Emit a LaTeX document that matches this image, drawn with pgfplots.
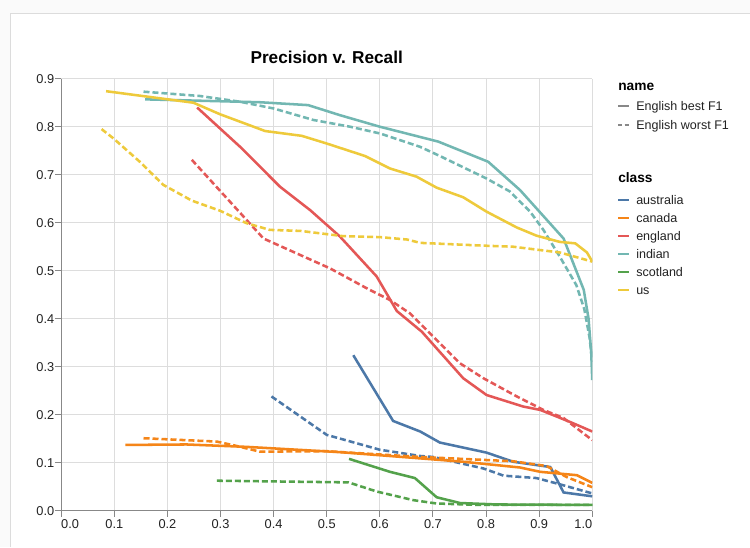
\documentclass[border=0pt]{standalone}
\usepackage{pgfplots}
\pgfplotsset{compat=1.18}
\usepackage{fontspec}
\setmainfont{Liberation Sans}
\definecolor{caus}{HTML}{4C78A8}
\definecolor{ccan}{HTML}{F58518}
\definecolor{ceng}{HTML}{E45756}
\definecolor{cind}{HTML}{72B7B2}
\definecolor{csco}{HTML}{54A24B}
\definecolor{cus}{HTML}{EECA3B}
\definecolor{gridgray}{HTML}{DDDDDD}
\definecolor{axisgray}{HTML}{888888}
\definecolor{framegray}{HTML}{DCDCDC}
\definecolor{outerbg}{HTML}{FAFAFA}
\definecolor{labgray}{HTML}{222222}
\begin{document}
\begin{tikzpicture}
\begin{scope}[x=0.75pt,y=0.75pt]
\path[use as bounding box] (0,0) rectangle (750,547);
\fill[outerbg] (0,0) rectangle (750,547);
\fill[white] (10,0) rectangle (750,533);
\draw[framegray, line width=0.75pt] (10,0) -- (10,533) -- (750,533);
\node[font=\fontsize{12.9}{15}\selectfont\bfseries] at (326.7,490) {Precision v. Recall};
\end{scope}
\begin{axis}[
  at={(45.9pt,27.225pt)}, anchor=south west,
  scale only axis, width=398.3pt, height=324pt,
  xmin=0, xmax=1, ymin=0, ymax=0.9,
  xtick={0,0.1,0.2,0.3,0.4,0.5,0.6,0.7,0.8,0.9,1},
  xticklabels={\makebox[0pt][l]{0.0},0.1,0.2,0.3,0.4,0.5,0.6,0.7,0.8,0.9,\makebox[0pt][r]{1.0}},
  ytick={0,0.1,0.2,0.3,0.4,0.5,0.6,0.7,0.8,0.9},
  yticklabels={0.0,0.1,0.2,0.3,0.4,0.5,0.6,0.7,0.8,0.9},
  grid=major,
  major grid style={color=gridgray, line width=0.75pt},
  axis lines*=left,
  axis line style={color=axisgray, line width=0.75pt},
  tick align=outside,
  major tick length=4.7pt,
  tick style={color=axisgray, line width=0.75pt},
  ticklabel style={font=\fontsize{9.6}{11}\selectfont, text=labgray},
  yticklabel style={xshift=3pt},
  xticklabel style={yshift=1.5pt},
  every axis plot/.append style={line width=1.9pt, no markers},
  clip=true,
]
% australia
\addplot[caus] coordinates {(0.550,0.324) (0.625,0.187) (0.676,0.165) (0.713,0.142) (0.801,0.121) (0.851,0.102) (0.921,0.091) (0.946,0.038) (1.0,0.030)};
\addplot[caus, dash pattern=on 4.5pt off 2.25pt] coordinates {(0.396,0.238) (0.5,0.158) (0.6,0.127) (0.676,0.114) (0.7,0.112) (0.795,0.088) (0.833,0.073) (0.895,0.068) (0.939,0.055) (1.0,0.036)};
% canada
\addplot[ccan] coordinates {(0.121,0.137) (0.236,0.138) (0.349,0.133) (0.525,0.122) (0.676,0.109) (0.757,0.102) (0.864,0.090) (0.902,0.081) (0.971,0.074) (1.0,0.058)};
\addplot[ccan, dash pattern=on 4.5pt off 2.25pt] coordinates {(0.155,0.151) (0.293,0.144) (0.330,0.135) (0.374,0.123) (0.5,0.124) (0.676,0.112) (0.851,0.103) (0.914,0.093) (0.952,0.070) (1.0,0.049)};
% england
\addplot[ceng] coordinates {(0.256,0.840) (0.337,0.758) (0.412,0.675) (0.469,0.626) (0.525,0.571) (0.594,0.488) (0.632,0.416) (0.679,0.373) (0.757,0.276) (0.801,0.241) (0.870,0.217) (0.902,0.210) (0.958,0.185) (1.0,0.165)};
\addplot[ceng, dash pattern=on 4.5pt off 2.25pt] coordinates {(0.246,0.731) (0.381,0.567) (0.506,0.505) (0.581,0.460) (0.619,0.439) (0.657,0.411) (0.713,0.349) (0.751,0.307) (0.795,0.276) (0.858,0.238) (0.908,0.210) (0.946,0.193) (1.0,0.147)};
% indian
\addplot[cind] coordinates {(0.158,0.857) (0.374,0.851) (0.465,0.845) (0.525,0.824) (0.6,0.800) (0.710,0.769) (0.804,0.727) (0.864,0.668) (0.946,0.567) (0.984,0.46) (0.993,0.40) (0.998,0.33) (1.0,0.272)};
\addplot[cind, dash pattern=on 4.5pt off 2.25pt] coordinates {(0.155,0.873) (0.261,0.864) (0.337,0.852) (0.4,0.838) (0.475,0.814) (0.544,0.800) (0.6,0.786) (0.676,0.758) (0.713,0.739) (0.801,0.692) (0.845,0.665) (0.883,0.623) (0.908,0.585) (0.939,0.529) (0.97,0.47) (0.985,0.42) (0.995,0.36) (1.0,0.31)};
% scotland
\addplot[csco] coordinates {(0.542,0.108) (0.619,0.081) (0.666,0.068) (0.707,0.028) (0.751,0.016) (0.820,0.013) (1.0,0.012)};
\addplot[csco, dash pattern=on 4.5pt off 2.25pt] coordinates {(0.293,0.0625) (0.541,0.059) (0.594,0.040) (0.663,0.022) (0.707,0.015) (0.789,0.012) (1.0,0.012)};
% us
\addplot[cus] coordinates {(0.0845,0.874) (0.249,0.850) (0.299,0.826) (0.384,0.791) (0.453,0.781) (0.5,0.765) (0.572,0.739) (0.619,0.713) (0.669,0.696) (0.707,0.673) (0.757,0.653) (0.801,0.623) (0.858,0.590) (0.895,0.573) (0.939,0.560) (0.968,0.557) (0.990,0.538) (1.0,0.519)};
\addplot[cus, dash pattern=on 4.5pt off 2.25pt] coordinates {(0.076,0.795) (0.098,0.776) (0.148,0.727) (0.192,0.679) (0.246,0.646) (0.299,0.625) (0.349,0.599) (0.393,0.585) (0.450,0.583) (0.531,0.572) (0.6,0.570) (0.651,0.565) (0.676,0.558) (0.801,0.552) (0.851,0.550) (0.902,0.543) (0.939,0.538) (1.0,0.519)};
\end{axis}
\begin{scope}[x=0.75pt,y=0.75pt]
\tikzset{lt/.style={anchor=base west, inner sep=0, font=\fontsize{10.3}{12}\selectfont\bfseries},
         le/.style={anchor=base west, inner sep=0, font=\fontsize{9.4}{11}\selectfont, text=labgray}}
\node[lt] at (618,547-90.5) {name};
\draw[axisgray, line width=1.5pt] (618,547-106.5) -- (629,547-106.5);
\node[le] at (636,547-111) {English best F1};
\draw[axisgray, line width=1.5pt, dash pattern=on 3pt off 2pt] (618,547-125) -- (630,547-125);
\node[le] at (636,547-129.5) {English worst F1};
\node[lt] at (618,547-182.5) {class};
\foreach \c/\n/\yy in {caus/australia/200, ccan/canada/218, ceng/england/236, cind/indian/254, csco/scotland/272, cus/us/290}{
  \draw[\c, line width=1.5pt] (618,547-\yy) -- (629,547-\yy);
  \node[le] at (636,547-\yy-4.5) {\n};
}
\end{scope}
\end{tikzpicture}
\end{document}
